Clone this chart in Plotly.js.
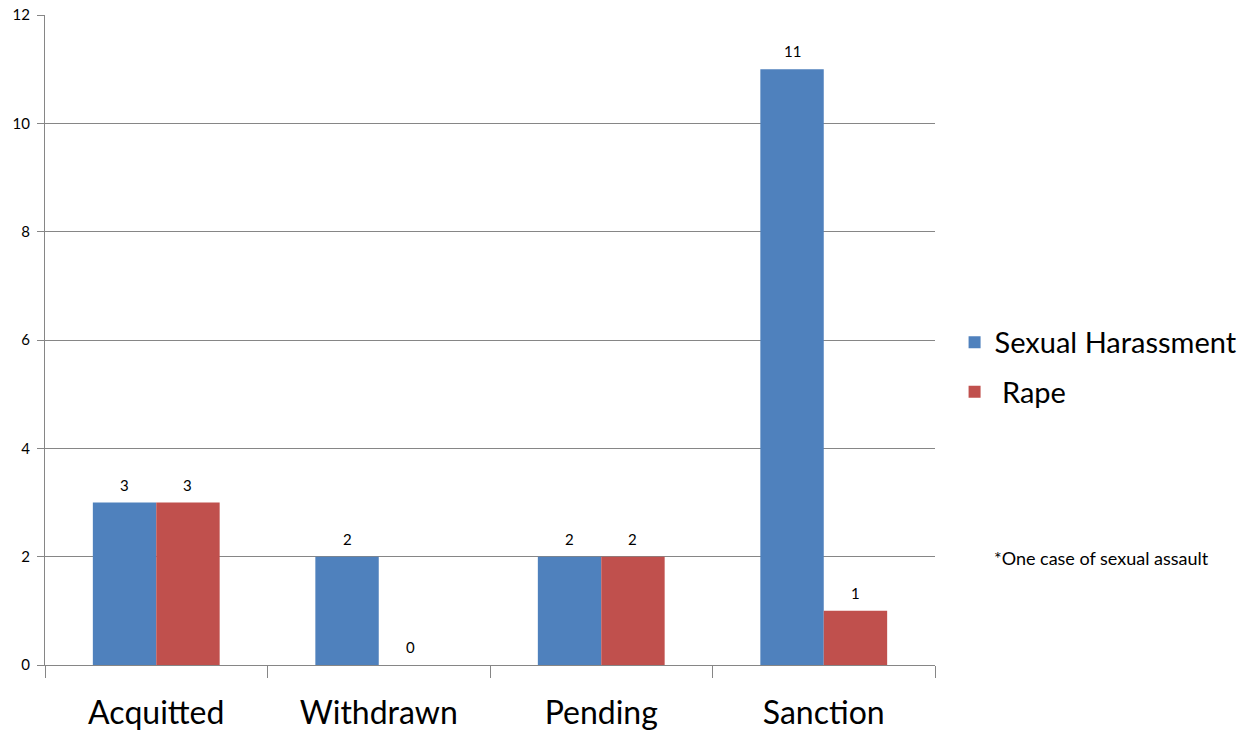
<!DOCTYPE html>
<html>
<head>
<meta charset="utf-8">
<script src="https://cdn.plot.ly/plotly-3.0.1.min.js"></script>
<style>html,body{margin:0;padding:0;background:#fff;}#chart{width:1255px;height:732px;}</style>
</head>
<body>
<div id="chart"></div>
<script>
const categories = ["Acquitted", "Withdrawn", "Pending", "Sanction"];
const harassment = [3, 2, 2, 11];
const rape = [3, 0, 2, 1];
const yTicks = [0, 2, 4, 6, 8, 10, 12];
const seriesNames = ["Sexual Harassment", " Rape"];
const note = "*One case of sexual assault";

const font = "Lato, 'Open Sans', sans-serif";

const traces = [
  {
    type: "bar", x: categories, y: harassment, name: seriesNames[0],
    marker: {color: "#4F81BD"}, legendgroup: "a", hoverinfo: "none"
  },
  {
    type: "bar", x: categories, y: rape, name: seriesNames[1],
    marker: {color: "#C0504D"}, legendgroup: "b", hoverinfo: "none"
  }
];

// data labels via annotations placed with the axis scales
const labelAnn = [];
[[harassment, -31.7], [rape, 31.7]].forEach(([vals, dx]) => {
  vals.forEach((v, i) => {
    labelAnn.push({
      x: categories[i], y: v, xref: "x", yref: "y", text: String(v),
      showarrow: false, xshift: dx, yshift: 18, yanchor: "middle",
      font: {size: 15, family: font, color: "#000"}
    });
  });
});

const layout = {
  width: 1255, height: 732,
  margin: {l: 45, r: 320, t: 15, b: 67},
  paper_bgcolor: "#fff", plot_bgcolor: "#fff",
  font: {family: font, color: "#000"},
  barmode: "group", bargap: 0.43, bargroupgap: 0,
  showlegend: true,
  legend: {
    x: 1.022, y: 0.458, xanchor: "left", yanchor: "middle",
    font: {size: 29, family: font}, traceorder: "grouped", tracegroupgap: 9,
    itemwidth: 30
  },
  xaxis: {
    type: "category", showline: true, linecolor: "#868686", linewidth: 1,
    ticks: "outside", tickson: "boundaries", ticklen: 12, tickcolor: "#868686",
    showgrid: false, tickfont: {size: 32, family: font}, zeroline: false,
    ticklabelstandoff: 20
  },
  yaxis: {
    range: [0, 12], tickvals: yTicks, showline: true, linecolor: "#868686",
    ticks: "outside", ticklen: 7, tickcolor: "#868686",
    showgrid: true, gridcolor: "#868686", gridwidth: 1, zeroline: false,
    tickfont: {size: 15, family: font}, ticklabelstandoff: 4
  },
  annotations: labelAnn.concat([
    {xref: "paper", yref: "paper", x: 1.064, y: 0.165, xanchor: "left", yanchor: "middle",
     text: note, showarrow: false, font: {size: 18, family: font}}
  ])
};

Plotly.newPlot("chart", traces, layout, {displayModeBar: false, staticPlot: true});
</script>
</body>
</html>
